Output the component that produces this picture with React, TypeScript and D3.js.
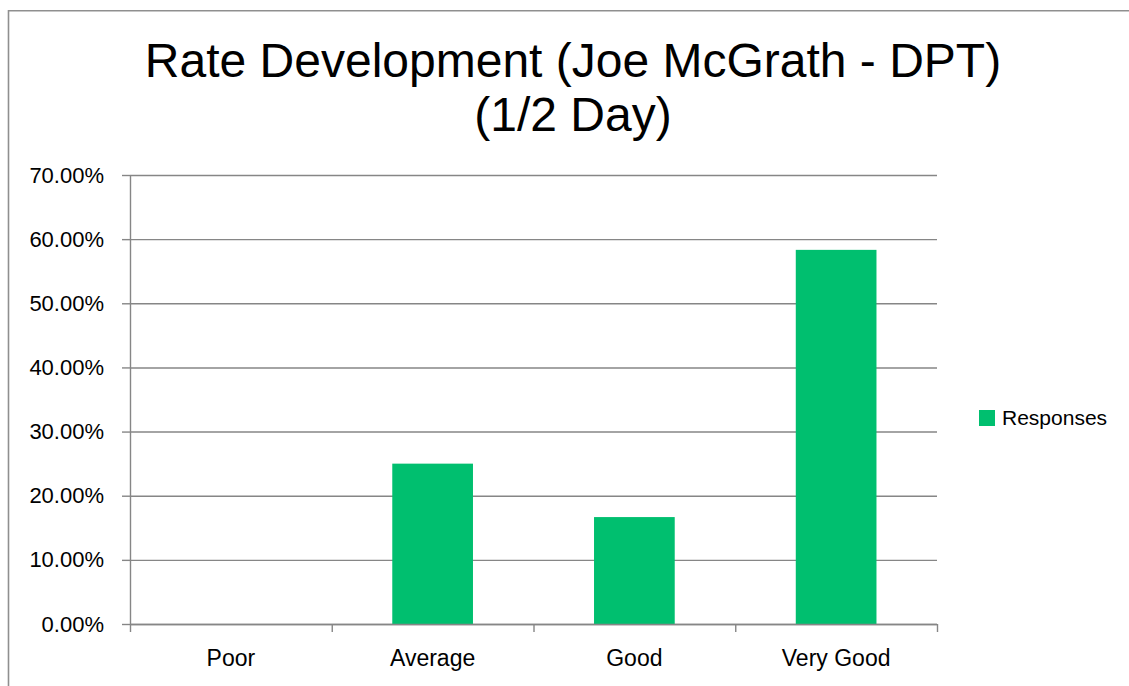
import React, { useEffect, useRef } from 'react';
import * as d3 from 'd3';

// Chart data
const categories = ['Poor', 'Average', 'Good', 'Very Good'];
const responses = [0, 0.25, 0.1667, 0.5833];
const yTicks = [0, 0.1, 0.2, 0.3, 0.4, 0.5, 0.6, 0.7];
const titleLines = ['Rate Development (Joe McGrath - DPT)', '(1/2 Day)'];
const seriesName = 'Responses';

const App: React.FC = () => {
    const chartRef = useRef<SVGSVGElement>(null);

    useEffect(() => {
        if (!chartRef.current) return;

        d3.select(chartRef.current).selectAll('*').remove();

        const width = 1129;
        const height = 686;
        const plot = { left: 130, right: 937, top: 175, bottom: 624 };
        const font = '"Liberation Sans", Arial, sans-serif';
        const gridColor = '#868686';
        const barColor = '#00BF6F';

        const svg = d3.select(chartRef.current)
            .attr('width', width)
            .attr('height', height)
            .attr('viewBox', `0 0 ${width} ${height}`)
            .style('font-family', font);

        svg.append('rect')
            .attr('width', width)
            .attr('height', height)
            .attr('fill', '#ffffff');

        // Chart area border (runs off the right and bottom of the picture)
        svg.append('path')
            .attr('d', `M8.5,${height} V10.8 H${width}`)
            .attr('fill', 'none')
            .attr('stroke', '#8f8f8f')
            .attr('stroke-width', 1.6);

        // Title
        const title = svg.append('text')
            .attr('text-anchor', 'middle')
            .attr('font-size', 48)
            .attr('fill', '#000');
        titleLines.forEach((line, i) => {
            title.append('tspan')
                .attr('x', 573)
                .attr('y', 77 + i * 54)
                .text(line);
        });

        // Scales
        const xScale = d3.scaleBand<string>()
            .domain(categories)
            .range([plot.left, plot.right])
            .padding(0);

        const yScale = d3.scaleLinear()
            .domain([0, 0.7])
            .range([plot.bottom, plot.top]);

        // Horizontal gridlines
        svg.append('g')
            .attr('transform', `translate(${plot.left},0)`)
            .call(d3.axisLeft(yScale)
                .tickValues(yTicks)
                .tickSize(-(plot.right - plot.left))
                .tickFormat(() => ''))
            .call(g => g.select('.domain').remove())
            .selectAll('line')
            .attr('stroke', gridColor)
            .attr('stroke-width', 1.4);

        // Y axis with tick marks and labels
        const yAxis = svg.append('g')
            .attr('transform', `translate(${plot.left},0)`)
            .call(d3.axisLeft(yScale)
                .tickValues(yTicks)
                .tickSize(8)
                .tickPadding(18)
                .tickFormat(d => d3.format('.2%')(d as number)));
        yAxis.select('.domain')
            .attr('d', `M0.5,${plot.top}V${plot.bottom}`)
            .attr('stroke', gridColor)
            .attr('stroke-width', 1.4);
        yAxis.selectAll('line')
            .attr('stroke', gridColor)
            .attr('stroke-width', 1.4);
        yAxis.selectAll('text')
            .attr('font-family', font)
            .attr('font-size', 22)
            .attr('fill', '#000');

        // X axis: tick marks at the category boundaries
        const boundaries = [...categories.map(c => xScale(c) as number), plot.right];
        svg.append('g')
            .selectAll('line')
            .data(boundaries)
            .enter()
            .append('line')
            .attr('x1', d => d + 0.5)
            .attr('x2', d => d + 0.5)
            .attr('y1', plot.bottom)
            .attr('y2', plot.bottom + 8)
            .attr('stroke', gridColor)
            .attr('stroke-width', 1.4);

        svg.append('g')
            .selectAll('text')
            .data(categories)
            .enter()
            .append('text')
            .attr('x', d => (xScale(d) as number) + xScale.bandwidth() / 2)
            .attr('y', 666)
            .attr('text-anchor', 'middle')
            .attr('font-size', 23)
            .attr('fill', '#000')
            .text(d => d);

        // Bars (Excel-style gap width 150%)
        const barWidth = xScale.bandwidth() * 0.4;
        svg.append('g')
            .selectAll('rect')
            .data(categories.map((c, i) => ({ category: c, value: responses[i] })))
            .enter()
            .append('rect')
            .attr('x', d => (xScale(d.category) as number) + (xScale.bandwidth() - barWidth) / 2)
            .attr('y', d => yScale(d.value))
            .attr('width', barWidth)
            .attr('height', d => plot.bottom - yScale(d.value))
            .attr('fill', barColor);

        // X axis line over the bars
        svg.append('line')
            .attr('x1', plot.left)
            .attr('x2', plot.right)
            .attr('y1', plot.bottom + 0.5)
            .attr('y2', plot.bottom + 0.5)
            .attr('stroke', gridColor)
            .attr('stroke-width', 1.4);

        // Legend
        const legend = svg.append('g').attr('transform', 'translate(979,410)');
        legend.append('rect')
            .attr('width', 16)
            .attr('height', 16)
            .attr('fill', barColor);
        legend.append('text')
            .attr('x', 23)
            .attr('y', 15)
            .attr('font-size', 21)
            .attr('fill', '#000')
            .text(seriesName);
    }, []);

    return (
        <div style={{ position: 'absolute', left: 0, top: 0, width: 1129, height: 686 }}>
            <svg ref={chartRef} style={{ display: 'block' }}></svg>
        </div>
    );
};

export default App;
